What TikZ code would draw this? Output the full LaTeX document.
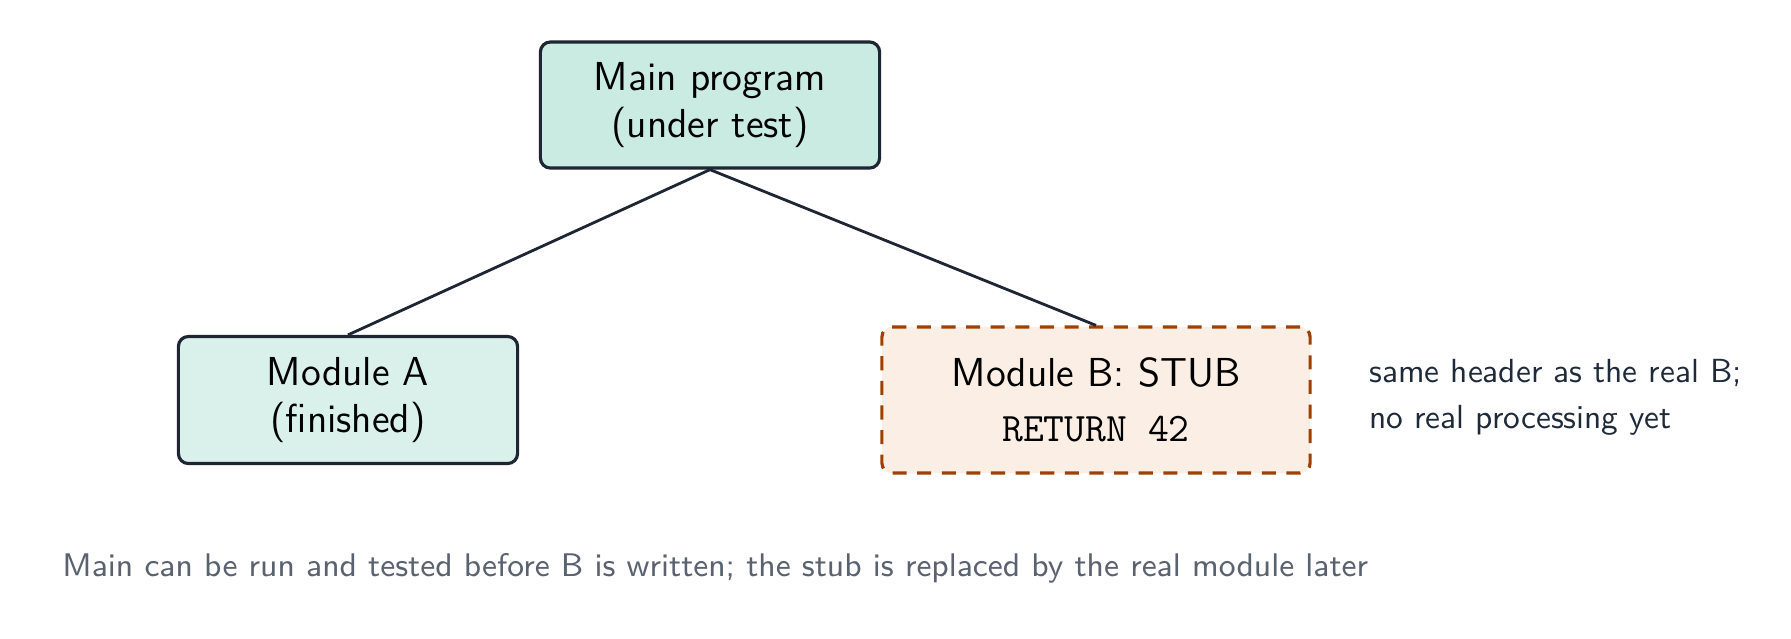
\documentclass[tikz,border=0pt]{standalone}
\usepackage{fontspec}
\renewcommand\familydefault{\sfdefault}
\usetikzlibrary{positioning}
\definecolor{edge}{HTML}{1E2533}
\definecolor{mainfill}{HTML}{C9EBE1}
\definecolor{donefill}{HTML}{DAF1EB}
\definecolor{stubfill}{HTML}{FBEEE4}
\definecolor{stubdraw}{HTML}{A04000}
\definecolor{note}{HTML}{1E2A3A}
\definecolor{caption}{HTML}{5A6270}
\begin{document}
\begin{tikzpicture}[x=0.01cm, y=-0.01cm,
    module/.style={rectangle, draw=edge, line width=0.9pt, rounded corners=1mm,
        align=center, text=black, inner sep=0pt, font=\fontsize{11.5}{13.5}\selectfont},
    done/.style={module, fill=donefill, minimum width=3.39cm, minimum height=1.27cm},
    stub/.style={module, draw=stubdraw, dashed, dash pattern=on 4pt off 3pt,
        fill=stubfill, minimum width=4.28cm, minimum height=1.46cm},
    link/.style={draw=edge, line width=0.8pt}
    ]
    \useasboundingbox (0,0) rectangle (1791,638);
    \node (Main) [module, fill=mainfill, minimum width=3.39cm, minimum height=1.26cm]
        at (710,105) {Main program\\(under test)};
    \node (ModA) [done] at (348,400) {Module A\\(finished)};
    \node (ModB) [stub] at (1096,400) {Module B: STUB\\[2pt]\texttt{RETURN 42}};
    \node (Note) [anchor=west, align=left, text=note, font=\fontsize{9.5}{13}\selectfont]
        at (1357,397) {same header as the real B;\\no real processing yet};
    \node (Caption) [anchor=west, text=caption, font=\fontsize{9.3}{11}\selectfont]
        at (50,568) {Main can be run and tested before B is written; the stub is replaced by the real module later};
    \draw [link] (Main.south) -- (ModA.north);
    \draw [link] (Main.south) -- (ModB.north);
\end{tikzpicture}
\end{document}
